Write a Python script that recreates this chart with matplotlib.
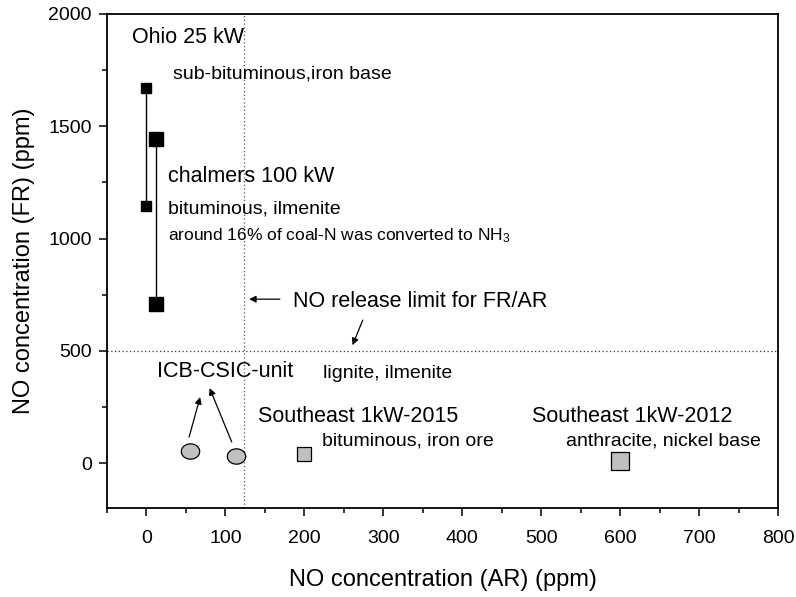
import matplotlib
matplotlib.use("Agg")
import matplotlib.pyplot as plt
import numpy as np
from matplotlib.path import Path

plt.rcParams['font.family'] = ['Liberation Sans', 'DejaVu Sans']
plt.rcParams['mathtext.fontset'] = 'custom'
plt.rcParams['mathtext.rm'] = 'Liberation Sans'
plt.rcParams['mathtext.it'] = 'Liberation Sans:italic'

# Data (AR ppm, FR ppm)
ohio_ar = [0, 0]
ohio_fr = [1670, 1145]
chalmers_ar = [12, 12]
chalmers_fr = [1445, 710]
icb_ar = [55, 113]
icb_fr = [55, 30]
se2015_ar = [200]
se2015_fr = [40]
se2012_ar = [600]
se2012_fr = [10]
limit_ar = 123
limit_fr = 500

fig = plt.figure(figsize=(7.96, 5.97), dpi=100)
ax = fig.add_axes([107 / 796, 1 - 508 / 597, (778 - 107) / 796, (508 - 14) / 597])

# limit lines
ax.axvline(limit_ar, color='#555555', linestyle=(0, (1, 2)), linewidth=0.9)
ax.axhline(limit_fr, color='#333333', linestyle=(0, (1, 2)), linewidth=0.9)

ax.plot(ohio_ar, ohio_fr, color='black', linewidth=1, marker='s', markersize=7.5, zorder=3)
ax.plot(chalmers_ar, chalmers_fr, color='black', linewidth=1, marker='s', markersize=9.5, zorder=3)

t = np.linspace(0, 2 * np.pi, 60)
ell = Path(np.column_stack([1.2 * np.cos(t), np.sin(t)]), closed=True)
ax.scatter(icb_ar, icb_fr, marker=ell, s=175, facecolor='#c0c0c0', edgecolor='black', linewidth=0.9, zorder=3)
ax.scatter(se2015_ar, se2015_fr, marker='s', s=95, facecolor='#c0c0c0', edgecolor='black', linewidth=0.9, zorder=3)
ax.scatter(se2012_ar, se2012_fr, marker='s', s=165, facecolor='#c0c0c0', edgecolor='black', linewidth=0.9, zorder=3)

ax.set_xlim(-50, 800)
ax.set_ylim(-200, 2000)
ax.set_xticks(np.arange(0, 801, 100))
ax.set_xticks(np.arange(-50, 801, 50), minor=True)
ax.set_yticks(np.arange(0, 2001, 500))
ax.set_yticks(np.arange(-0, 2001, 250), minor=True)
ax.tick_params(which='major', direction='out', length=6, width=1.1, labelsize=14, pad=5)
ax.tick_params(axis='x', which='major', pad=10)
ax.tick_params(which='minor', direction='out', length=3.5, width=1.1)
for s in ax.spines.values():
    s.set_linewidth(1.3)

ax.set_xlabel('NO concentration (AR) (ppm)', fontsize=17, va='center')
ax.xaxis.set_label_coords(0.5, (508 - 580) / 494)
ax.set_ylabel('NO concentration (FR) (ppm)', fontsize=17, va='center')
ax.yaxis.set_label_coords((24 - 107) / 671, 0.5)

big = 15.5
mid = 14
ax.text(-18, 1871, 'Ohio 25 kW', fontsize=big, va='baseline')
ax.text(33, 1714, 'sub-bituminous,iron base', fontsize=mid, va='baseline')
ax.text(27, 1251, 'chalmers 100 kW', fontsize=big, va='baseline')
ax.text(27, 1113, 'bituminous, ilmenite', fontsize=mid, va='baseline')
ax.text(27, 993, r'around 16% of coal-N was converted to NH$_\mathregular{3}$', fontsize=12.5, va='baseline')
ax.text(185, 695, 'NO release limit for FR/AR', fontsize=big, va='baseline')
ax.text(13, 383, 'ICB-CSIC-unit', fontsize=big, va='baseline')
ax.text(224, 378, 'lignite, ilmenite', fontsize=mid, va='baseline')
ax.text(141, 183, 'Southeast 1kW-2015', fontsize=big, va='baseline')
ax.text(222, 80, 'bituminous, iron ore', fontsize=mid, va='baseline')
ax.text(488, 183, 'Southeast 1kW-2012', fontsize=big, va='baseline')
ax.text(532, 80, 'anthracite, nickel base', fontsize=mid, va='baseline')

ap = dict(arrowstyle='-|>', color='black', lw=0.9, mutation_scale=10, shrinkA=0, shrinkB=0)
ax.annotate('', xy=(130, 730), xytext=(169, 730), arrowprops=ap)
ax.annotate('', xy=(261, 525), xytext=(274, 637), arrowprops=ap)
ax.annotate('', xy=(68, 294), xytext=(54, 116), arrowprops=ap)
ax.annotate('', xy=(80, 334), xytext=(108, 94), arrowprops=ap)

fig.savefig('out.png', dpi=100)
